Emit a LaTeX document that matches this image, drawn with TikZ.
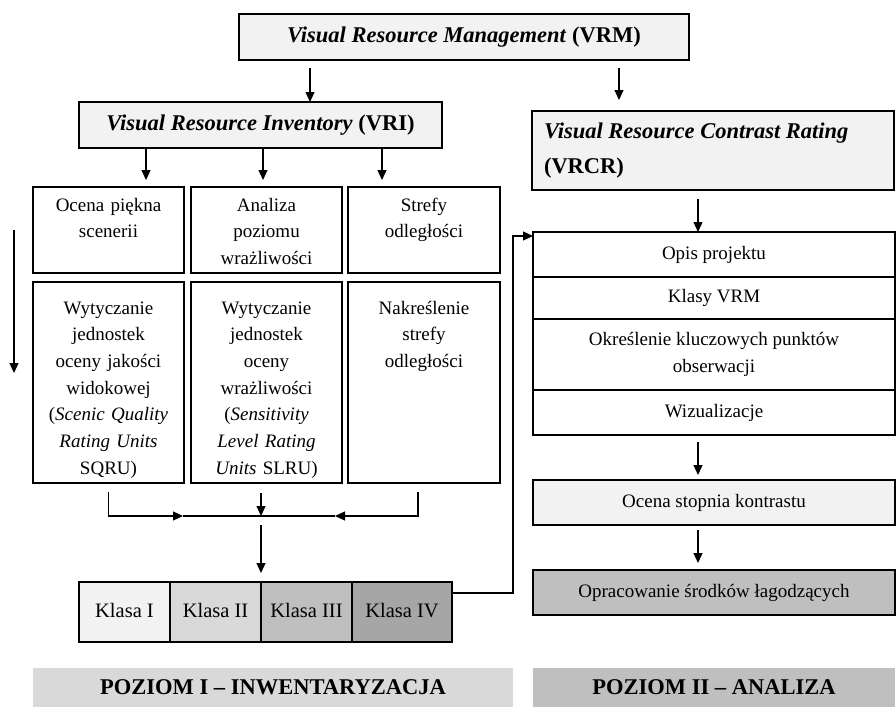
\documentclass[tikz,border=0pt]{standalone}
\usepackage{fontspec}
\setmainfont{Liberation Serif}
\usetikzlibrary{arrows.meta,positioning}

\definecolor{shadeA}{HTML}{F2F2F2}
\definecolor{shadeB}{HTML}{D9D9D9}
\definecolor{shadeC}{HTML}{BFBFBF}
\definecolor{shadeD}{HTML}{A6A6A6}

\begin{document}
\begin{tikzpicture}[
  x=1pt,y=-1pt,
  >={Triangle[length=10pt,width=9pt]},
  node distance=0pt,
  every node/.style={font=\fontsize{19}{26.7}\selectfont,outer sep=0pt,line width=1.2pt},
  head/.style={draw,fill=shadeA,font=\fontsize{22.5}{35}\selectfont\bfseries},
  cell/.style={draw,align=center,inner xsep=3pt,inner ysep=6pt},
  upper/.style={cell,text width=#1,text height=18pt,text depth=56pt},
  lower/.style={cell,text width=#1,text height=26pt,text depth=163pt},
  row/.style={draw,align=center,minimum width=362pt,minimum height=#1},
  klasa/.style={draw,minimum height=60pt,minimum width=#1,inner sep=0pt,text height=14pt,text depth=4pt,
    font=\fontsize{20.5}{24}\selectfont},
  level/.style={fill=#1,minimum height=39pt,font=\fontsize{22.5}{26}\selectfont\bfseries},
  link/.style={->,line width=1.2pt},
  line/.style={line width=1.2pt}
]
  \useasboundingbox (0,0) rectangle (896,707);

  % top level
  \node[head,minimum width=450pt,minimum height=46pt] (vrm) at (464,37)
    {\textit{Visual Resource Management} (VRM)};
  \node[head,minimum width=363pt,minimum height=46pt] (vri) at (260.5,125)
    {\textit{Visual Resource Inventory} (VRI)};
  \node[head,align=flush left,text width=338pt,inner xsep=12pt,minimum height=79pt] (vrcr) at (713,150.5)
    {\textit{Visual Resource Contrast Rating}\\(VRCR)};

  % inventory columns
  \node[upper=145pt] (o1) at (108.5,230) {Ocena piękna\\scenerii};
  \node[upper=145pt] (o2) at (266.5,230) {Analiza\\poziomu\\wrażliwości};
  \node[upper=146pt] (o3) at (424,230) {Strefy\\odległości};
  \node[lower=145pt] (w1) at (108.5,382.5)
    {Wytyczanie\\jednostek\\oceny jakości\\widokowej\\(\textit{Scenic Quality}\\\textit{Rating Units}\\SQRU)};
  \node[lower=145pt] (w2) at (266.5,382.5)
    {Wytyczanie\\jednostek\\oceny\\wrażliwości\\(\textit{Sensitivity}\\\textit{Level Rating}\\\textit{Units} SLRU)};
  \node[lower=146pt] (w3) at (424,382.5) {Nakreślenie\\strefy\\odległości};

  % classes
  \node[klasa=91pt,fill=shadeA] (kl1) at (124.5,612) {Klasa I};
  \node[klasa=91pt,fill=shadeB,right=of kl1] (kl2) {Klasa II};
  \node[klasa=91pt,fill=shadeC,right=of kl2] (kl3) {Klasa III};
  \node[klasa=100pt,fill=shadeD,right=of kl3] (kl4) {Klasa IV};

  % contrast rating stack
  \node[row=45pt] (op1) at (714,254.5) {Opis projektu};
  \node[row=42pt,below=of op1] (op2) {Klasy VRM};
  \node[row=71pt,below=of op2] (op3) {Określenie kluczowych punktów\\obserwacji};
  \node[row=45pt,below=of op3] (op4) {Wizualizacje};
  \node[row=45pt,fill=shadeA] (ocs) at (714,502.5) {Ocena stopnia kontrastu};
  \node[row=45pt,fill=shadeC] (opr) at (714,592.5) {Opracowanie środków łagodzących};

  % levels
  \node[level=shadeB,minimum width=480pt] (p1) at (273,687.5) {POZIOM I -- INWENTARYZACJA};
  \node[level=shadeC,minimum width=362pt] (p2) at (714,687.5) {POZIOM II -- ANALIZA};

  % connectors
  \draw[link,shorten <=8pt] ([xshift=-154pt]vrm.south) -- ([xshift=-154pt]vrm.south |- vri.north);
  \draw[link,shorten <=8pt,shorten >=11pt] ([xshift=155pt]vrm.south) -- ([xshift=155pt]vrm.south |- vrcr.north);
  \draw[link,shorten >=7pt] ([xshift=-114.5pt]vri.south) -- ([xshift=-114.5pt]vri.south |- o1.north);
  \draw[link,shorten >=7pt] ([xshift=2.5pt]vri.south) -- ([xshift=2.5pt]vri.south |- o2.north);
  \draw[link,shorten >=7pt] ([xshift=121.5pt]vri.south) -- ([xshift=121.5pt]vri.south |- o3.north);

  \coordinate (lt) at (14,230);
  \coordinate (lb) at (14,373);
  \draw[link] (lt) -- (lb);

  \coordinate (mj) at (261,516);
  \draw[link,shorten <=9pt] (w1.south) |- ([xshift=-78pt]mj);
  \draw[line] ([xshift=-78pt]mj) -- ([xshift=74pt]mj);
  \draw[link,shorten <=9pt] ([xshift=-6pt]w3.south) |- ([xshift=74pt]mj);
  \draw[link,shorten <=10pt] (w2.south -| mj) -- (mj);
  \draw[link,shorten <=9pt,shorten >=9pt] (mj) -- (kl2.north east);

  \draw[link] ([yshift=-11pt]kl4.north east) -- ++(61,0) |- ([yshift=-4pt]op1.north west);

  \draw[link,shorten <=9pt] ([xshift=-15pt]vrcr.south) -- ([xshift=-15pt]vrcr.south |- op1.north);
  \draw[link,shorten <=7pt,shorten >=5pt] ([xshift=-16pt]op4.south) -- ([xshift=-16pt]op4.south |- ocs.north);
  \draw[link,shorten <=5pt,shorten >=7pt] ([xshift=-16pt]ocs.south) -- ([xshift=-16pt]ocs.south |- opr.north);
\end{tikzpicture}
\end{document}
